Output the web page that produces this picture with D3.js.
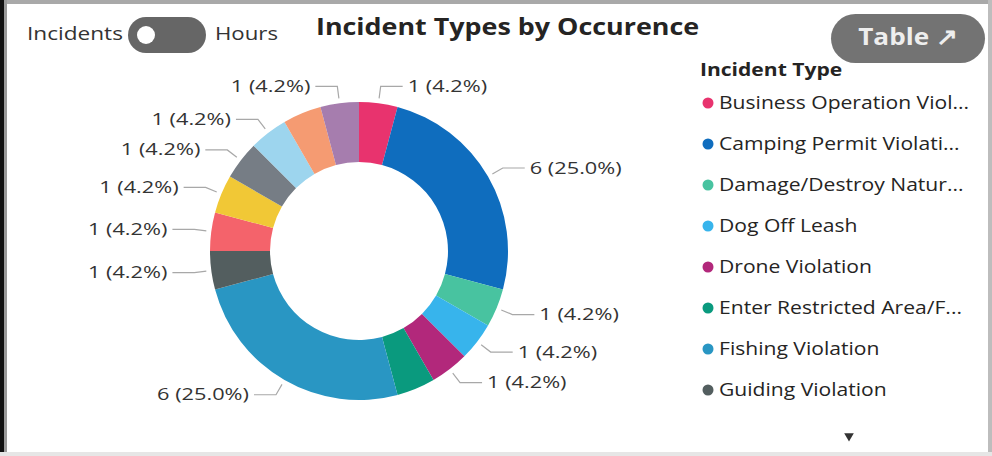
<!DOCTYPE html>
<html>
<head>
<meta charset="utf-8">
<script src="https://cdn.jsdelivr.net/npm/d3@7/dist/d3.min.js"></script>
<style>
  html, body { margin: 0; padding: 0; background: #ffffff; }
  svg { display: block; }
  text { font-family: "Open Sans", "Noto Sans", sans-serif; }
</style>
</head>
<body>
<svg id="chart" width="992" height="456"></svg>
<script>
// ---- data ----
const categories = [
  "Business Operation Viol...",
  "Camping Permit Violati...",
  "Damage/Destroy Natur...",
  "Dog Off Leash",
  "Drone Violation",
  "Enter Restricted Area/F...",
  "Fishing Violation",
  "Guiding Violation",
  "Type 9",
  "Type 10",
  "Type 11",
  "Type 12",
  "Type 13",
  "Type 14"
];
const values = [1, 6, 1, 1, 1, 1, 6, 1, 1, 1, 1, 1, 1, 1];
const colors = [
  "#E8336E", "#0F6DBE", "#48C3A0", "#37B4EC", "#B2287B", "#0A9A7E", "#2996C3",
  "#535E5F", "#F4636B", "#F1C836", "#767D85", "#9DD5EE", "#F59B72", "#A67DAE"
];
const legendCount = 8;
const titleText = "Incident Types by Occurence";
const legendTitle = "Incident Type";

// ---- layout ----
const W = 992, H = 456;
const svg = d3.select("#chart");

// text drawn with a horizontal stretch (reference glyphs are wide)
function sText(parent, x, y, str, size, sx, opts = {}) {
  const gg = parent.append("g").attr("transform", `translate(${x},${y}) scale(${sx},1)`);
  gg.append("text").attr("x", 0).attr("y", 0)
    .attr("dominant-baseline", "middle")
    .attr("font-size", size)
    .attr("fill", opts.fill || "#333")
    .attr("text-anchor", opts.anchor || "start")
    .attr("font-weight", opts.weight || "normal")
    .text(str);
  return gg;
}

// frame
svg.append("rect").attr("x", 0).attr("y", 0).attr("width", W).attr("height", H).attr("fill", "#ffffff");
svg.append("rect").attr("x", 0).attr("y", 0).attr("width", W).attr("height", 4).attr("fill", "#a9a9a9");
svg.append("rect").attr("x", 0).attr("y", 0).attr("width", 4).attr("height", H).attr("fill", "#111111");
svg.append("rect").attr("x", 4).attr("y", 0).attr("width", 3).attr("height", H).attr("fill", "#9a9a9a");
svg.append("rect").attr("x", W - 4).attr("y", 0).attr("width", 4).attr("height", H).attr("fill", "#bdbdbd");
svg.append("rect").attr("x", 0).attr("y", H - 4).attr("width", W).attr("height", 4).attr("fill", "#e6e6e6");

// toggle
sText(svg, 27, 35, "Incidents", 19, 1.19);
svg.append("rect").attr("x", 128).attr("y", 17).attr("width", 78).attr("height", 36).attr("rx", 18)
  .attr("fill", "#666666");
svg.append("circle").attr("cx", 146).attr("cy", 35).attr("r", 9).attr("fill", "#ffffff");
sText(svg, 215, 35, "Hours", 19, 1.17);

// title
sText(svg, 316, 29, titleText, 24, 1.12, { weight: "bold", fill: "#252423" });

// Table button
svg.append("rect").attr("x", 831).attr("y", 14).attr("width", 154).attr("height", 49).attr("rx", 24.5)
  .attr("fill", "#737373");
sText(svg, 908, 39, "Table \u2197", 24, 1.09, { weight: "bold", fill: "#eeeeee", anchor: "middle" });

// ---- donut ----
const cx = 359, cy = 251, R = 149, r0 = 89;
const g = svg.append("g").attr("transform", `translate(${cx},${cy})`);
const data = categories.map((c, i) => ({ name: c, value: values[i], color: colors[i] }));
const pie = d3.pie().value(d => d.value).sort(null).startAngle(0).endAngle(2 * Math.PI);
const arcs = pie(data);
const arc = d3.arc().innerRadius(r0).outerRadius(R);
g.selectAll("path.slice").data(arcs).join("path").attr("class", "slice")
  .attr("d", arc).attr("fill", d => d.data.color);

const total = d3.sum(values);
const fmtPct = d3.format(".1f");

let labels = arcs.map(d => {
  const mid = (d.startAngle + d.endAngle) / 2;
  const a = [Math.sin(mid) * (R + 5), -Math.cos(mid) * (R + 5)];
  const e = [Math.sin(mid) * (R + 17), -Math.cos(mid) * (R + 17)];
  const side = Math.sin(mid) >= 0 ? 1 : -1;
  return { d, a, e, side, text: `${d.data.value} (${fmtPct(d.data.value / total * 100)}%)` };
});
// hide colliding labels (greedy top-down per side)
[1, -1].forEach(s => {
  const list = labels.filter(l => l.side === s).sort((p, q) => p.e[1] - q.e[1]);
  let last = -Infinity;
  list.forEach(l => {
    if (l.e[1] - last < 25) { l.hidden = true; } else { last = l.e[1]; }
  });
});
labels = labels.filter(l => !l.hidden);

const lg = g.append("g");
lg.selectAll("polyline").data(labels).join("polyline")
  .attr("points", l => [l.a, l.e, [l.e[0] + l.side * 22, l.e[1]]].map(p => p.join(",")).join(" "))
  .attr("fill", "none").attr("stroke", "#a8a8a8").attr("stroke-width", 1.2);
labels.forEach(l => {
  sText(lg, l.e[0] + l.side * 27, l.e[1] + 1, l.text, 17, 1.28,
    { anchor: l.side > 0 ? "start" : "end", fill: "#333" });
});

// ---- legend ----
sText(svg, 700, 71, legendTitle, 18, 1.17, { weight: "bold", fill: "#252423" });
const ly = d3.scalePoint().domain(d3.range(legendCount)).range([103, 390]);
const leg = svg.append("g").selectAll("g").data(data.slice(0, legendCount)).join("g")
  .attr("transform", (d, i) => `translate(0,${ly(i)})`);
leg.append("circle").attr("cx", 708).attr("cy", 0).attr("r", 5.5).attr("fill", d => d.color);
leg.each(function (d) {
  sText(d3.select(this), 719, 1, d.name, 19, 1.11, { fill: "#252423" });
});

// scroll arrow
svg.append("path").attr("d", d3.symbol().type(d3.symbolTriangle).size(40)())
  .attr("transform", "translate(849,436) rotate(180)").attr("fill", "#333");
</script>
</body>
</html>
